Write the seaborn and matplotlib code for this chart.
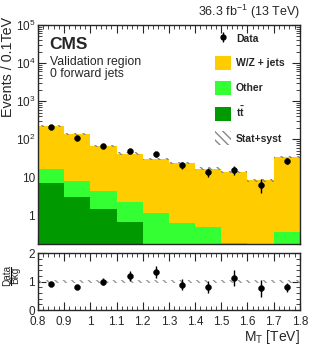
import numpy as np
import pandas as pd
import matplotlib
matplotlib.use("Agg")
import matplotlib.pyplot as plt
import seaborn as sns
from matplotlib.patches import Patch
from matplotlib.lines import Line2D
from matplotlib.ticker import FixedLocator, MultipleLocator, LogLocator, NullFormatter, FuncFormatter

# ---- data ----
edges = [0.8, 0.9, 1.0, 1.1, 1.2, 1.3, 1.4, 1.5, 1.6, 1.7, 1.8]
centers = [0.85, 0.95, 1.05, 1.15, 1.25, 1.35, 1.45, 1.55, 1.65, 1.75]
xtick_labels = ["0.8", "0.9", "1", "1.1", "1.2", "1.3", "1.4", "1.5", "1.6", "1.7", "1.8"]
ttbar = [7.2, 3.0, 1.5, 0.68, 0.10, 0.08, 0.06, 0.04, 0.03, 0.05]
other = [9.8, 4.8, 2.9, 1.52, 1.07, 0.54, 0.43, 0.15, 0.06, 0.32]
wzjets = [207.0, 127.2, 63.6, 39.8, 29.8, 22.8, 16.5, 13.6, 8.2, 33.6]
data = [204, 108, 68, 50, 41, 21, 13.8, 15.5, 6.3, 27]
syst_frac = 0.07
ratio_band = 0.06

sns.set_theme(style="ticks")
plt.rcParams['font.family'] = ['Liberation Sans', 'DejaVu Sans']
plt.rcParams['mathtext.fontset'] = 'custom'
plt.rcParams['mathtext.rm'] = 'Liberation Sans'
plt.rcParams['mathtext.it'] = 'Liberation Sans:italic'
plt.rcParams['mathtext.bf'] = 'Liberation Sans:bold'

c_wz = "#ffcc00"
c_other = "#33ff33"
c_tt = "#009900"

W, H = 316, 356
fig = plt.figure(figsize=(3.16, 3.56), dpi=100)
ax = fig.add_axes([0.120, 0.315, 0.829, 0.615])
rax = fig.add_axes([0.120, 0.129, 0.829, 0.160])

rows = []
for i, c in enumerate(centers):
    rows.append({"mt": c, "w": wzjets[i], "proc": "W/Z + jets"})
    rows.append({"mt": c, "w": other[i], "proc": "Other"})
    rows.append({"mt": c, "w": ttbar[i], "proc": "tt"})
df = pd.DataFrame(rows)

sns.histplot(data=df, x="mt", weights="w", hue="proc",
             hue_order=["W/Z + jets", "Other", "tt"],
             palette={"W/Z + jets": c_wz, "Other": c_other, "tt": c_tt},
             bins=edges, multiple="stack", element="bars", linewidth=0,
             alpha=1, legend=False, ax=ax)
ax.set_yscale("log")

total = np.array(wzjets) + np.array(other) + np.array(ttbar)
e = np.array(edges)
tot_step = np.append(total, total[-1])
ax.fill_between(e, tot_step * (1 - syst_frac), tot_step * (1 + syst_frac), step="post",
                facecolor="none", edgecolor="#888888", hatch="\\\\\\\\", linewidth=0)

d = np.array(data)
derr = np.sqrt(d)
ax.errorbar(centers, d, yerr=derr, fmt="none", ecolor="black", elinewidth=1.0)
sns.scatterplot(x=centers, y=d, color="black", s=18, edgecolor="black", ax=ax, zorder=5)

ax.set_xlim(0.8, 1.8)
ax.set_ylim(0.18, 1e5)
ax.set_xlabel("")
ax.set_ylabel("")
fig.text(0.5 / W, 1 - 17 / H, "Events / 0.1TeV", rotation=90, ha="left", va="top", fontsize=10.3)

def yfmt(v, pos):
    if abs(v - 1) < 1e-9:
        return "1"
    if abs(v - 10) < 1e-9:
        return "10"
    return r"$10^{%d}$" % int(round(np.log10(v)))
ax.yaxis.set_major_locator(FixedLocator([1, 10, 100, 1e3, 1e4, 1e5]))
ax.yaxis.set_major_formatter(FuncFormatter(yfmt))
ax.yaxis.set_minor_locator(LogLocator(base=10, subs=np.arange(2, 10)))
ax.yaxis.set_minor_formatter(NullFormatter())
ax.xaxis.set_major_locator(MultipleLocator(0.1))
ax.xaxis.set_minor_locator(MultipleLocator(0.02))
ax.set_xticklabels([])

for a in (ax, rax):
    a.tick_params(which="both", direction="in", top=True, right=True, labelsize=8.5, pad=2)
    a.tick_params(which="major", length=6, width=0.8)
    a.tick_params(which="minor", length=3, width=0.6)
    for s in a.spines.values():
        s.set_linewidth(1.0)
rax.tick_params(axis="x", pad=4.5)

ax.text(0.045, 0.945, "CMS", transform=ax.transAxes, fontsize=12.5, fontweight="bold", va="top")
ax.text(0.045, 0.86, "Validation region\n0 forward jets", transform=ax.transAxes,
        fontsize=8.8, va="top", linespacing=1.05)
ax.text(1.0, 1.02, r"36.3 fb$^{-1}$ (13 TeV)", transform=ax.transAxes, fontsize=9,
        ha="right", va="bottom")

eb = ax.errorbar([], [], yerr=[], fmt="o", color="black", markersize=3.5, elinewidth=1.0)
handles = [
    eb,
    Patch(facecolor=c_wz, edgecolor="none"),
    Patch(facecolor=c_other, edgecolor="none"),
    Patch(facecolor=c_tt, edgecolor="none"),
    Patch(facecolor="none", edgecolor="#888888", hatch="\\\\\\\\", linewidth=0),
]
labels = ["Data", "W/Z + jets", "Other", r"t$\mathbf{\bar{t}}$", "Stat+syst"]
leg = ax.legend(handles, labels, loc="upper right", bbox_to_anchor=(0.975, 1.01), frameon=False,
                prop={"weight": "bold", "size": 7.5}, handlelength=1.6, handleheight=1.7,
                labelspacing=1.0, handletextpad=0.45, borderpad=0.35)

# ratio
ratio = d / total
rerr = derr / total
rax.fill_between(e, 1 - ratio_band, 1 + ratio_band, facecolor="none", edgecolor="#999999",
                 hatch="\\\\\\\\", linewidth=0)
rax.errorbar(centers, ratio, yerr=rerr, fmt="none", ecolor="black", elinewidth=1.0)
sns.scatterplot(x=centers, y=ratio, color="black", s=18, edgecolor="black", ax=rax, zorder=5)
rax.set_xlim(0.8, 1.8)
rax.set_ylim(0, 2)
rax.yaxis.set_major_locator(FixedLocator([0, 1, 2]))
rax.yaxis.set_minor_locator(MultipleLocator(0.2))
rax.set_xticks(edges)
rax.set_xticklabels(xtick_labels)
rax.xaxis.set_minor_locator(MultipleLocator(0.02))
rax.set_ylabel("")
rax.set_xlabel(r"M$_{\mathrm{T}}$ [TeV]", fontsize=10, loc="right", labelpad=0)

# Data / Bkg fraction label (rotated)
fy = 1 - 275.5 / H
fig.text(6.8 / W, fy, "Data", rotation=90, ha="center", va="center", fontsize=7.2)
fig.text(15.3 / W, fy, "Bkg", rotation=90, ha="center", va="center", fontsize=7.2)
fig.add_artist(Line2D([11.2 / W, 11.2 / W], [1 - 285 / H, 1 - 266.5 / H],
                      color="black", lw=0.8, transform=fig.transFigure))

fig.savefig("out.png", dpi=100)
